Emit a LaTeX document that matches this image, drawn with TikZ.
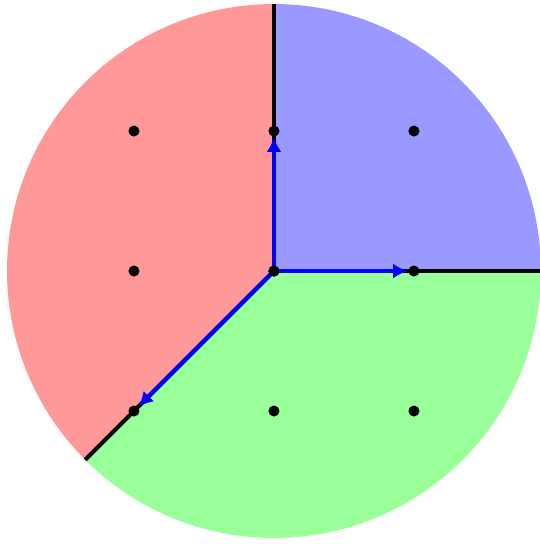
\documentclass[tikz,border=0pt]{standalone}
\usetikzlibrary{arrows.meta}
\definecolor{regred}{HTML}{FF9999}
\definecolor{regblue}{HTML}{9999FF}
\definecolor{reggreen}{HTML}{99FF99}
\begin{document}
\begin{tikzpicture}[x=2cm,y=2cm,
 dot/.style={circle,fill=black,inner sep=0pt,minimum size=4.5pt},
 wall/.style={line width=1.7pt,black},
 vec/.style={line width=1.7pt,blue,-{Latex[length=6pt,width=6pt]}}]
\useasboundingbox (-1.957,-1.95) rectangle (1.9,1.936);
\def\R{1.907}
\begin{scope}
\clip (-1.957,-1.95) rectangle (1.9,1.936);
\fill[regblue] (0,0) -- (90:\R) arc[start angle=90,end angle=0,radius=\R] -- cycle;
\fill[regred] (0,0) -- (90:\R) arc[start angle=90,end angle=225,radius=\R] -- cycle;
\fill[reggreen] (0,0) -- (225:\R) arc[start angle=225,end angle=360,radius=\R] -- cycle;
\coordinate (top) at (90:\R);
\coordinate (right) at (0:\R);
\coordinate (ll) at (225:\R);
\node[dot] (o) at (0,0) {};
\draw[wall] (o.center) -- (top);
\draw[wall] (o.center) -- (right);
\draw[wall] (o.center) -- (ll);
\end{scope}
\node[dot] (a) at (-1,1) {};
\node[dot] (b) at (0,1) {};
\node[dot] (c) at (1,1) {};
\node[dot] (d) at (-1,0) {};
\node[dot] (f) at (1,0) {};
\node[dot] (g) at (-1,-1) {};
\node[dot] (h) at (0,-1) {};
\node[dot] (i) at (1,-1) {};
\draw[vec] (o.center) -- (b);
\draw[vec] (o.center) -- (f);
\draw[vec] (o.center) -- (g);
\node[dot] at (o) {};
\end{tikzpicture}
\end{document}
